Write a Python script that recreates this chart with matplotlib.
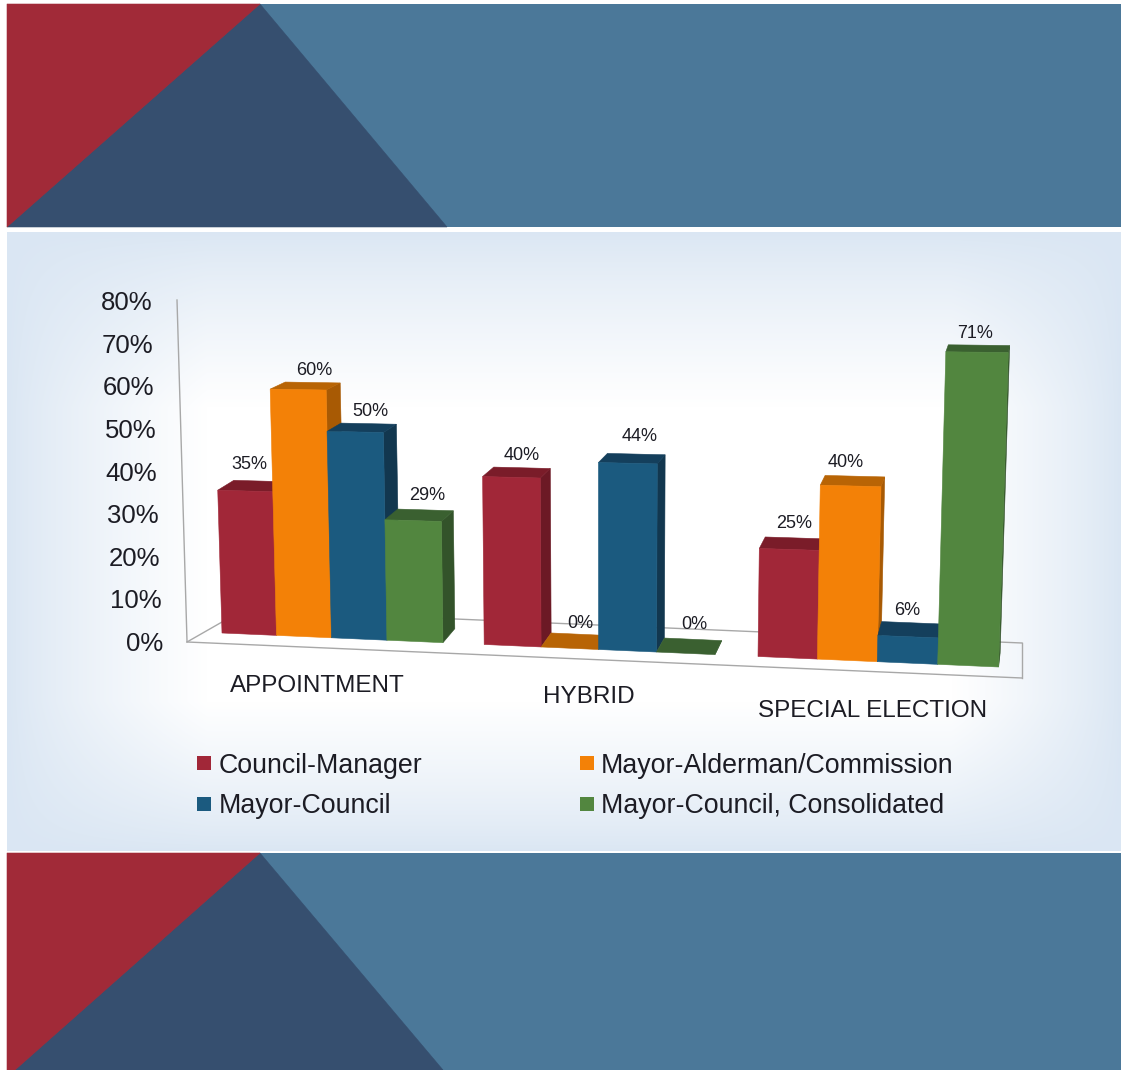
import matplotlib
matplotlib.use("Agg")
import matplotlib.pyplot as plt
import numpy as np
from matplotlib.patches import Polygon, Rectangle

# donnees du graphique
categories = ["APPOINTMENT", "HYBRID", "SPECIAL ELECTION"]
series = ["Council-Manager", "Mayor-Alderman/Commission", "Mayor-Council", "Mayor-Council, Consolidated"]
council_manager = [35, 40, 25]
mayor_alderman = [60, 0, 40]
mayor_council = [50, 44, 6]
consolidated = [29, 0, 71]
ticks = [0, 10, 20, 30, 40, 50, 60, 70, 80]

# couleurs : face, dessus, cote
faces = ["#a12738", "#f38107", "#1b5a7f", "#52863f"]
tops = ["#7a1c29", "#b86405", "#143f5c", "#3a6030"]
sides = ["#6c1925", "#a85a04", "#12374f", "#33532a"]
RED, NAVY, STEEL = "#a12a38", "#364f6f", "#4b7899"
PALE = np.array([0xda, 0xe6, 0xf3]) / 255
TXT = "#1c1c24"
FONT = "Liberation Sans"

GROUP = 4.73  # largeur d'un groupe, en largeurs de barre


def floor_x(u):
    """abscisse du pied de barre pour une position u (en largeurs de barre)"""
    return 222 + 54.2 * u + 0.26 * u ** 2


def floor_y(x):
    return 633 + 0.0438 * (x - 222)


def scale(x):
    """pixels par point de pourcentage, la perspective grossit vers la droite"""
    return 4.08 + 0.00045 * (x - 222)


def lift(x, v):
    """point a la hauteur v au dessus du pied x"""
    h = v * scale(x)
    return x + (x - 604) * 7.8e-5 * h, floor_y(x) - h


def depth(x, y):
    """decalage vers le fond de la barre"""
    return 16 - (x - 220) * 0.0186, -min(14, max(7, 14 - (640 - y) * 0.0276))


def tri(ax, pts, col):
    ax.add_patch(Polygon(pts, closed=True, facecolor=col, edgecolor=col, lw=0.4))


def banner(ax, y0, y1, bl, br):
    ax.add_patch(Rectangle((7, y0), 1114, y1 - y0, facecolor=STEEL, edgecolor="none"))
    tri(ax, [(bl, y1), (260, y0), (br, y1)], NAVY)
    tri(ax, [(7, y0), (260, y0), (bl, y1), (7, y1)], RED)


def panel(ax):
    """fond du panneau : bleu pale sur les bords, blanc au centre"""
    X, Y = np.meshgrid(np.arange(7, 1121), np.arange(232, 851))
    tx = np.clip(np.minimum((X - 7) / 200, (1121 - X) / 170), 0, 1)
    ty = np.clip(np.minimum((Y - 232) / 175, (851 - Y) / 150), 0, 1)
    t = (tx * ty)[..., None] ** 0.8
    ax.imshow(PALE + (1 - PALE) * t, extent=(7, 1121, 851, 232), aspect="auto", zorder=0, interpolation="bilinear")


def walls(ax):
    col = "#a8a8a8"
    for x, y in [((177, 187), (300, 641)), ((187, 1022), (642, 678)), ((187, 243), (642, 610)),
                 ((243, 1022), (610, 643)), ((1022, 1022), (643, 678))]:
        ax.plot(x, y, color=col, lw=1, zorder=1)


def bar(ax, u, v, k, nudge):
    x0, x1 = floor_x(u), floor_x(u + 1)
    b0, b1 = (x0, floor_y(x0)), (x1, floor_y(x1))
    t0, t1 = lift(x0, v), lift(x1, v)
    dt0, dt1 = depth(*t0), depth(*t1)
    db1 = depth(*b1)
    back = lambda p, d: (p[0] + d[0], p[1] + d[1])
    tri(ax, [t1, back(t1, dt1), back(b1, db1), b1], sides[k])
    tri(ax, [t0, back(t0, dt0), back(t1, dt1), t1], tops[k])
    if v > 0:
        tri(ax, [b0, t0, t1, b1], faces[k])
    lx = (t0[0] + t1[0]) / 2 + dt0[0] * 0.8
    ly = t0[1] + dt0[1] - 15
    ax.text(lx + nudge[0], ly + nudge[1], "{}%".format(v), fontsize=13, color=TXT, family=FONT,
            ha="center", va="center", zorder=5)


fig = plt.figure(figsize=(11.21, 10.70), dpi=100, facecolor="white")
ax = fig.add_axes([0, 0, 1, 1])
panel(ax)
ax.set_xlim(0, 1121)
ax.set_ylim(1070, 0)
ax.axis("off")

banner(ax, 4, 227, 7, 447)
banner(ax, 853, 1070, 15, 443)
walls(ax)

values = [council_manager, mayor_alderman, mayor_council, consolidated]
# petits recalages des etiquettes
nudges = [[(-9, -1), (1, 3), (0, 2)], [(4, 3), (2, 6), (-9, 2)], [(4, 3), (5, -2), (-4, 4)], [(4, 1), (2, 1), (-4, 4)]]
for c in range(len(categories)):
    for k in range(len(series)):
        bar(ax, c * GROUP + k, values[k][c], k, nudges[k][c])

# axe des valeurs
for t in ticks:
    ax.text(163 - t * 0.1375, 644 - t * 4.26, "{}%".format(t), fontsize=18.5, color=TXT, family=FONT,
            ha="right", va="center")

# noms des categories
for c, name in enumerate(categories):
    xc = (floor_x(c * GROUP) + floor_x(c * GROUP + 4)) / 2 - 15 + 4.5 * c
    ax.text(xc, 644 + 0.043 * (xc - 187) + 36 + (c == 2) * 2, name, fontsize=17.5, color=TXT, family=FONT,
            ha="center", va="center")

# legende
for k, name in enumerate(series):
    col, row = k % 2, k // 2
    ax.add_patch(Rectangle((197 + col * 383, 756 + row * 41), 14, 14, facecolor=faces[k], edgecolor="none"))
    ax.text(219 + col * 382, 766 + row * 40, name, fontsize=19.3, color=TXT, family=FONT, ha="left", va="center")

fig.savefig("out.png", dpi=100)
